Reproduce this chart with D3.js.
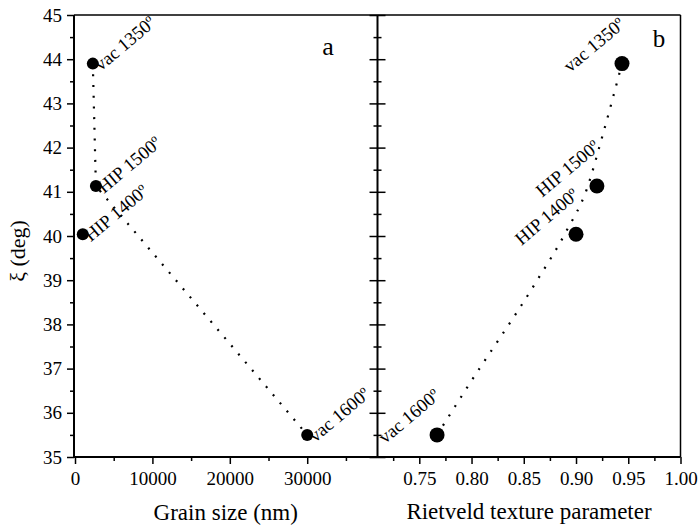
<!DOCTYPE html>
<html>
<head>
<meta charset="utf-8">
<script src="https://cdn.jsdelivr.net/npm/d3@7"></script>
<style>
  body { margin: 0; background: #fff; }
  svg text { font-family: "Liberation Serif", "Times New Roman", serif; fill: #000; }
  .axis path.domain { display: none; }
  .axis line { stroke: #000; stroke-width: 1.5; }
</style>
</head>
<body>
<div id="chart"></div>
<script>
// sample labels and measured values
var sampleLabels = ["vac 1350º", "HIP 1500º", "HIP 1400º", "vac 1600º"];
var grainSize = [2300, 2700, 1000, 30000];          // nm
var rietveld = [0.944, 0.920, 0.900, 0.767];
var xiDeg = [43.9, 41.13, 40.04, 35.5];

// dotted guide lines
var grainGuideX = [2300, 2700, 30000];
var grainGuideY = [43.9, 41.13, 35.5];
var rietGuideX = [0.767, 0.796, 0.861, 0.891, 0.910, 0.925, 0.944];
var rietGuideY = [35.5, 36.58, 38.93, 40.12, 41.04, 42.24, 43.9];

// ticks
var yTicks = [35, 36, 37, 38, 39, 40, 41, 42, 43, 44, 45];
var yMinor = [35.5, 36.5, 37.5, 38.5, 39.5, 40.5, 41.5, 42.5, 43.5, 44.5];
var grainTicks = [0, 10000, 20000, 30000];
var grainMinor = [5000, 15000, 25000, 35000];
var rietTicks = [0.75, 0.80, 0.85, 0.90, 0.95, 1.00];
var rietMinor = [0.725, 0.775, 0.825, 0.875, 0.925, 0.975];

var width = 699, height = 529;
var pTop = 15, pBottom = 457, pLeft = 74, pMid = 377.5, pRight = 680.5;

var svg = d3.select("#chart").append("svg")
    .attr("width", width)
    .attr("height", height);

var y = d3.scaleLinear().domain([35, 45]).range([pBottom, pTop]);
var xL = d3.scaleLinear().domain([-130, 39080]).range([pLeft, pMid]);
var xR = d3.scaleLinear().domain([0.71, 1.0]).range([pMid, pRight]);

// ---- axes ----
function addAxis(axis, tx, ty) {
    return svg.append("g")
        .attr("class", "axis")
        .attr("transform", "translate(" + tx + "," + ty + ")")
        .call(axis);
}

// left y axis
addAxis(d3.axisLeft(y).tickValues(yTicks).tickSize(7).tickPadding(5).tickFormat(d3.format("d")), pLeft, 0)
    .selectAll("text").style("font-size", "19px");
addAxis(d3.axisLeft(y).tickValues(yMinor).tickSize(4).tickFormat(""), pLeft, 0);

// middle divider ticks (both sides)
addAxis(d3.axisLeft(y).tickValues(yTicks).tickSize(8).tickFormat(""), pMid, 0);
addAxis(d3.axisRight(y).tickValues(yTicks).tickSize(8).tickFormat(""), pMid, 0);
addAxis(d3.axisLeft(y).tickValues(yMinor).tickSize(4).tickFormat(""), pMid, 0);
addAxis(d3.axisRight(y).tickValues(yMinor).tickSize(4).tickFormat(""), pMid, 0);

// bottom axes
addAxis(d3.axisBottom(xL).tickValues(grainTicks).tickSize(7).tickPadding(8).tickFormat(d3.format("d")), 0, pBottom)
    .selectAll("text").style("font-size", "19px");
addAxis(d3.axisBottom(xL).tickValues(grainMinor).tickSize(4).tickFormat(""), 0, pBottom);
addAxis(d3.axisBottom(xR).tickValues(rietTicks).tickSize(7).tickPadding(8).tickFormat(d3.format(".2f")), 0, pBottom)
    .selectAll("text").style("font-size", "19px");
addAxis(d3.axisBottom(xR).tickValues(rietMinor).tickSize(4).tickFormat(""), 0, pBottom);

// frame lines
var frame = svg.append("g").attr("stroke", "#000").attr("fill", "none");
frame.append("line").attr("x1", pLeft).attr("x2", pLeft).attr("y1", pTop).attr("y2", pBottom).attr("stroke-width", 2);
frame.append("line").attr("x1", pMid).attr("x2", pMid).attr("y1", pTop).attr("y2", pBottom).attr("stroke-width", 2);
frame.append("line").attr("x1", pLeft - 1).attr("x2", pRight).attr("y1", pBottom).attr("y2", pBottom).attr("stroke-width", 2);
frame.append("line").attr("x1", pLeft).attr("x2", pRight).attr("y1", pTop).attr("y2", pTop).attr("stroke-width", 1.5);
frame.append("line").attr("x1", pRight).attr("x2", pRight).attr("y1", pTop).attr("y2", pBottom).attr("stroke-width", 1.5);

// ---- guide lines ----
var lineL = d3.line().x(function(d) { return xL(d[0]); }).y(function(d) { return y(d[1]); });
var lineR = d3.line().x(function(d) { return xR(d[0]); }).y(function(d) { return y(d[1]); })
    .curve(d3.curveMonotoneX);

svg.append("path")
    .datum(d3.zip(grainGuideX, grainGuideY))
    .attr("d", lineL)
    .attr("fill", "none").attr("stroke", "#000")
    .attr("stroke-width", 2.2).attr("stroke-dasharray", "2 8.7");

svg.append("path")
    .datum(d3.zip(rietGuideX, rietGuideY))
    .attr("d", lineR)
    .attr("fill", "none").attr("stroke", "#000")
    .attr("stroke-width", 2.2).attr("stroke-dasharray", "2 9");

// ---- points ----
var pts = sampleLabels.map(function(l, i) {
    return {label: l, g: grainSize[i], r: rietveld[i], xi: xiDeg[i]};
});

svg.selectAll(".ptL").data(pts).enter().append("circle")
    .attr("cx", function(d) { return xL(d.g); })
    .attr("cy", function(d) { return y(d.xi); })
    .attr("r", 6).attr("fill", "#000");

svg.selectAll(".ptR").data(pts).enter().append("circle")
    .attr("cx", function(d) { return xR(d.r); })
    .attr("cy", function(d) { return y(d.xi); })
    .attr("r", 7.5).attr("fill", "#000");

// point labels, rotated
svg.selectAll(".lblL").data(pts).enter().append("text")
    .attr("transform", function(d) {
        return "translate(" + (xL(d.g) + 8) + "," + (y(d.xi) + 8) + ") rotate(-40)";
    })
    .style("font-size", "18.5px")
    .text(function(d) { return d.label; });

svg.selectAll(".lblR").data(pts).enter().append("text")
    .attr("transform", function(d) {
        return "translate(" + (xR(d.r) + 4) + "," + (y(d.xi) - 37.5) + ") rotate(-40)";
    })
    .attr("text-anchor", "end")
    .style("font-size", "18.5px")
    .text(function(d) { return d.label; });

// panel letters
svg.append("text").attr("x", 328).attr("y", 55).attr("text-anchor", "middle")
    .style("font-size", "26px").text("a");
svg.append("text").attr("x", 659).attr("y", 47).attr("text-anchor", "middle")
    .style("font-size", "25px").text("b");

// axis titles
svg.append("text").attr("x", (pLeft + pMid) / 2).attr("y", 520).attr("text-anchor", "middle")
    .style("font-size", "23px").text("Grain size (nm)");
svg.append("text").attr("x", (pMid + pRight) / 2).attr("y", 519).attr("text-anchor", "middle")
    .style("font-size", "23px").text("Rietveld texture parameter");
svg.append("text")
    .attr("transform", "translate(25," + 251 + ") rotate(-90)")
    .attr("text-anchor", "middle")
    .style("font-size", "22px").text("ξ (deg)");
</script>
</body>
</html>
